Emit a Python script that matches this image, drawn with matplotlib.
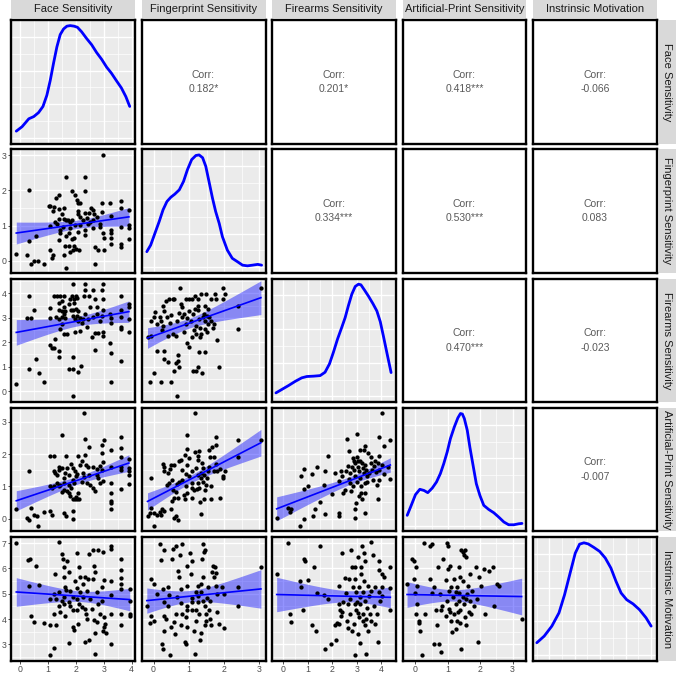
import numpy as np
import matplotlib
matplotlib.use("Agg")
import matplotlib.pyplot as plt
from matplotlib.ticker import FixedLocator, MultipleLocator, MaxNLocator, AutoMinorLocator, NullLocator

plt.rcParams['font.family'] = ['Liberation Sans', 'DejaVu Sans']

variables = ["Face Sensitivity", "Fingerprint Sensitivity", "Firearms Sensitivity",
             "Artificial-Print Sensitivity", "Instrinsic Motivation"]
axis_limits = [(-0.34, 4.12), (-0.34, 3.17), (-0.45, 4.6), (-0.4, 3.43), (2.36, 7.23)]
axis_ticks = [[0, 1, 2, 3, 4], [0, 1, 2, 3], [0, 1, 2, 3, 4], [0, 1, 2, 3], [3, 4, 5, 6, 7]]

corr_labels = {(0, 1): "0.182*", (0, 2): "0.201*", (0, 3): "0.418***", (0, 4): "-0.066",
               (1, 2): "0.334***", (1, 3): "0.530***", (1, 4): "0.083",
               (2, 3): "0.470***", (2, 4): "-0.023",
               (3, 4): "-0.007"}

# fitted lm lines: (x_start, y_start, x_end, y_end)
fit_lines = {(1, 0): (-0.15, 0.79, 3.90, 1.25),
             (2, 0): (-0.15, 2.40, 3.90, 3.25),
             (2, 1): (-0.17, 2.17, 3.04, 3.82),
             (3, 0): (-0.15, 0.55, 3.90, 1.72),
             (3, 1): (-0.17, 0.53, 3.04, 2.35),
             (3, 2): (-0.26, 0.30, 4.37, 1.66),
             (4, 0): (-0.15, 5.07, 3.93, 4.77),
             (4, 1): (-0.19, 4.73, 3.04, 5.19),
             (4, 2): (-0.26, 4.97, 4.37, 4.86),
             (4, 3): (-0.26, 4.97, 3.28, 4.89)}

# ---- density curves (diagonal), relative density ----
face_dens_x = [-0.15,0.06,0.30,0.48,0.65,0.81,0.95,1.07,1.19,1.31,1.43,1.55,1.67,1.79,1.93,2.05,2.20,2.38,2.56,2.74,2.92,3.10,3.27,3.45,3.63,3.79,3.93]
face_dens_y = [0.06,0.10,0.17,0.19,0.225,0.28,0.38,0.51,0.665,0.81,0.92,0.97,0.995,1.0,0.995,0.985,0.945,0.885,0.83,0.76,0.70,0.63,0.577,0.51,0.445,0.368,0.28]
fp_dens_x = [-0.19,-0.08,0.04,0.16,0.27,0.38,0.49,0.60,0.73,0.85,0.96,1.08,1.20,1.29,1.39,1.48,1.57,1.67,1.76,1.86,1.95,2.09,2.23,2.38,2.52,2.66,2.80,2.95,3.06]
fp_dens_y = [0.138,0.197,0.302,0.406,0.511,0.585,0.623,0.65,0.689,0.764,0.868,0.958,0.995,1.0,0.975,0.898,0.764,0.614,0.495,0.39,0.272,0.152,0.079,0.048,0.018,0.012,0.018,0.025,0.018]
fa_dens_x = [-0.29,-0.055,0.22,0.49,0.76,0.97,1.24,1.51,1.71,1.89,2.05,2.22,2.39,2.53,2.66,2.80,2.94,3.07,3.17,3.31,3.48,3.66,3.82,3.96,4.09,4.23,4.40]
fa_dens_y = [0.032,0.062,0.097,0.134,0.166,0.178,0.181,0.186,0.216,0.29,0.393,0.512,0.615,0.703,0.808,0.911,0.98,1.0,0.995,0.95,0.893,0.827,0.762,0.666,0.535,0.388,0.213]
ap_dens_x = [-0.255,-0.13,0.0,0.135,0.26,0.38,0.52,0.65,0.77,0.875,0.98,1.08,1.20,1.31,1.39,1.45,1.51,1.60,1.68,1.78,1.88,1.99,2.11,2.26,2.42,2.57,2.73,2.88,3.04,3.19,3.29]
ap_dens_y = [0.093,0.182,0.277,0.325,0.315,0.295,0.336,0.39,0.465,0.554,0.657,0.776,0.88,0.961,1.0,0.995,0.955,0.851,0.702,0.538,0.375,0.271,0.182,0.146,0.116,0.078,0.034,0.009,0.009,0.018,0.021]
im_dens_x = [2.51,2.80,3.10,3.38,3.60,3.80,4.02,4.19,4.36,4.53,4.75,4.98,5.20,5.42,5.62,5.82,6.04,6.29,6.54,6.80,7.0]
im_dens_y = [0.11,0.169,0.258,0.376,0.538,0.715,0.908,0.988,1.0,0.99,0.959,0.923,0.864,0.775,0.657,0.553,0.493,0.456,0.405,0.332,0.258]

# ---- scatter panels (x = column variable, y = row variable) ----
face_fp = [(-0.15,0.19),(0.30,2.02),(0.30,0.57),(0.24,0.18),(0.39,-0.09),(0.49,0.0),(0.63,0.0),(0.83,-0.1),(0.57,0.70),(1.07,1.0),(1.07,1.55),(1.21,1.53),(1.27,1.8),(1.40,1.86),(1.64,2.37),(2.32,2.37),(1.87,1.99),(1.96,1.86),(2.02,1.74),(2.08,1.63),(2.14,1.63),(2.32,1.99),(2.98,3.02),(1.37,1.47),(1.49,1.32),(1.55,1.2),(1.37,1.2),(1.33,1.06),(1.23,1.11),(1.64,1.15),(1.79,1.11),(1.85,1.17),(2.08,1.42),(2.06,1.34),(2.14,1.25),(2.32,1.36),(2.40,1.23),(2.48,1.36),(2.52,1.49),(2.60,1.44),(2.65,1.32),(2.74,1.25),(2.62,1.15),(2.44,1.06),(2.86,1.06),(2.92,1.63),(2.92,1.39),(3.21,1.63),(3.27,1.27),(3.60,1.70),(3.60,1.49),(3.90,1.44),(2.86,0.95),(2.98,0.78),(3.0,0.66),(3.27,0.87),(3.27,0.78),(3.27,0.66),(3.27,0.49),(3.60,0.95),(3.60,0.49),(3.60,0.38),(3.90,1.01),(3.90,0.92),(3.90,0.63),(2.68,0.40),(2.80,0.30),(3.0,0.30),(2.68,-0.09),(1.64,-0.19),(1.07,0.30),(1.13,0.09),(1.17,0.18),(1.37,0.59),(1.55,0.18),(1.61,0.42),(1.73,0.42),(1.79,0.26),(1.88,0.30),(1.93,0.42),(2.0,0.35),(2.12,0.30),(1.85,0.63),(1.93,0.66),(2.08,0.82),(2.32,0.87),(2.32,0.73),(1.64,0.70),(1.73,0.78),(1.43,0.87),(1.52,0.96),(1.79,0.92),(1.96,1.01),(2.14,1.01),(1.43,0.78),(1.57,1.49),(1.70,1.15),(2.24,1.15),(2.5,1.11),(2.62,0.92),(1.01,1.55),(1.17,1.42)]

face_fa = [(-0.15,0.30),(0.24,2.98),(0.39,2.98),(0.30,3.89),(0.50,3.32),(0.30,0.91),(0.57,1.30),(0.65,0.73),(0.83,0.39),(1.05,3.39),(1.07,2.97),(1.05,1.90),(1.13,1.76),(1.19,1.76),(1.25,2.15),(1.39,1.41),(1.21,3.89),(1.31,3.89),(1.43,3.89),(1.55,3.89),(1.37,3.62),(1.49,3.69),(1.37,3.31),(1.49,3.28),(1.55,3.42),(1.29,3.03),(1.40,2.94),(1.49,3.03),(1.57,3.15),(1.61,2.98),(1.49,2.74),(1.43,2.54),(1.57,2.33),(1.67,2.33),(1.73,3.55),(1.79,3.76),(1.85,3.89),(1.88,4.39),(1.94,3.76),(2.0,3.89),(2.05,3.80),(1.93,3.62),(1.81,3.31),(1.90,3.31),(2.0,3.35),(2.08,3.28),(1.88,3.08),(1.96,2.94),(2.05,3.08),(2.08,2.87),(2.14,2.98),(2.20,2.77),(1.96,2.40),(2.14,2.47),(2.29,3.89),(2.32,4.39),(2.32,4.12),(2.48,3.89),(2.50,3.42),(2.60,4.12),(2.68,3.76),(2.74,3.42),(2.92,4.12),(2.98,4.39),(2.98,3.76),(2.98,3.31),(2.92,3.08),(2.74,3.15),(2.62,3.01),(2.44,2.94),(2.32,3.17),(2.40,2.63),(2.56,2.22),(2.68,2.36),(2.80,2.36),(2.98,2.40),(2.98,2.26),(2.68,1.68),(2.86,2.87),(3.21,3.17),(3.27,2.98),(3.24,2.77),(3.21,1.98),(3.27,1.55),(3.60,3.89),(3.60,3.31),(3.60,3.01),(3.60,2.63),(3.60,2.54),(3.60,1.22),(3.90,3.58),(3.90,3.44),(3.90,2.94),(3.90,2.40),(3.27,0.37),(1.88,-0.22),(1.73,0.91),(1.88,0.91),(1.88,1.41),(2.08,0.77),(2.17,1.04),(1.39,1.65),(1.61,3.28),(2.26,2.94)]

fp_fa = [(-0.17,2.22),(-0.08,2.26),(-0.09,0.37),(0.02,0.73),(-0.08,2.85),(0.02,3.04),(0.04,3.25),(0.21,0.37),(0.11,1.65),(0.30,1.65),(0.30,1.32),(0.42,1.18),(0.49,0.37),(0.66,-0.22),(0.57,0.84),(0.68,1.48),(0.70,1.22),(0.76,4.23),(0.11,2.74),(0.19,3.01),(0.21,2.87),(0.28,2.67),(0.25,2.49),(0.30,3.28),(0.35,3.69),(0.28,3.48),(0.44,3.76),(0.54,3.76),(0.59,3.76),(0.38,3.01),(0.49,3.12),(0.47,2.77),(0.40,2.26),(0.54,2.33),(0.63,2.26),(0.66,2.87),(0.73,3.21),(0.82,3.01),(0.85,3.17),(0.82,3.42),(0.77,3.55),(0.92,3.76),(1.01,3.76),(1.10,3.76),(1.18,3.89),(1.27,3.76),(0.92,2.74),(0.96,2.98),(1.01,3.28),(1.06,2.87),(1.13,3.15),(1.17,3.35),(1.25,3.48),(0.87,2.40),(0.96,1.98),(1.01,1.80),(1.10,2.20),(1.15,2.49),(1.20,2.33),(1.20,2.67),(1.29,2.94),(1.32,2.57),(1.32,2.22),(1.39,3.04),(1.44,3.17),(1.45,2.87),(1.51,3.08),(1.53,2.74),(1.55,3.35),(1.58,3.01),(1.62,2.87),(1.45,2.54),(1.34,2.33),(1.50,2.40),(1.45,1.58),(1.34,3.96),(1.48,3.96),(1.45,3.48),(1.62,3.76),(1.74,3.96),(1.77,3.76),(1.72,2.74),(1.81,2.08),(1.86,1.00),(1.98,4.23),(2.02,3.96),(1.98,3.76),(2.38,2.54),(2.40,3.48),(3.04,4.23),(1.13,0.84),(1.20,0.84),(1.27,1.00),(1.36,0.73),(0.73,0.98),(0.63,1.14),(1.29,1.58),(1.67,2.60),(1.25,3.31)]

face_ap = [(-0.15,0.30),(0.30,1.48),(0.24,0.02),(0.30,-0.05),(0.39,0.33),(0.48,0.12),(0.63,-0.22),(0.60,0.07),(0.83,0.20),(1.07,0.23),(1.13,0.12),(1.05,1.94),(1.21,1.94),(1.05,1.0),(1.21,1.46),(1.25,1.41),(1.31,1.36),(1.33,1.10),(1.37,1.0),(1.40,1.61),(1.49,1.56),(1.55,0.17),(1.64,0.09),(1.51,2.59),(1.64,1.94),(1.67,1.56),(1.55,1.25),(1.57,1.10),(1.55,0.89),(1.73,1.05),(1.73,0.79),(1.81,1.70),(1.88,1.56),(1.96,1.46),(2.0,1.33),(1.88,1.20),(1.81,0.95),(1.79,0.69),(1.88,0.59),(1.96,0.59),(2.05,0.59),(2.12,0.59),(2.0,0.67),(2.08,0.79),(1.88,0.23),(1.88,-0.01),(2.08,1.94),(2.20,1.77),(2.29,3.28),(2.32,2.46),(2.32,1.97),(2.36,1.66),(2.48,2.23),(2.44,1.61),(2.48,1.36),(2.29,1.28),(2.20,1.12),(2.40,1.10),(2.50,1.05),(2.62,0.95),(2.68,0.84),(2.62,1.61),(2.74,1.53),(2.86,1.63),(2.92,2.02),(2.92,2.28),(3.0,2.44),(2.98,1.74),(2.92,1.51),(2.80,1.25),(2.74,1.36),(2.98,1.15),(3.27,2.13),(3.27,1.61),(3.24,1.10),(3.27,0.79),(3.24,0.53),(3.27,0.48),(3.27,0.30),(3.60,2.54),(3.60,2.18),(3.60,1.90),(3.60,1.61),(3.60,1.51),(3.60,0.91),(3.90,1.84),(3.90,1.56),(3.90,1.46),(3.90,1.36),(3.90,1.08),(2.14,1.66),(2.05,1.39),(1.93,1.10),(1.61,1.41),(1.43,1.05),(1.49,0.81),(1.67,0.84),(1.13,0.95),(1.19,1.02),(1.37,1.49),(1.73,1.36),(2.26,1.41),(2.86,1.10)]

fp_ap = [(-0.17,0.07),(-0.08,1.25),(-0.08,0.33),(-0.09,0.17),(0.02,0.17),(0.02,-0.22),(0.11,0.12),(0.19,0.20),(0.23,0.30),(0.21,0.12),(0.30,0.23),(0.28,1.70),(0.30,1.61),(0.30,1.46),(0.40,1.41),(0.38,1.05),(0.44,1.10),(0.49,1.66),(0.47,1.53),(0.51,1.18),(0.54,0.87),(0.57,0.64),(0.51,0.53),(0.49,0.28),(0.63,0.81),(0.66,1.08),(0.73,1.12),(0.70,0.64),(0.58,0.02),(0.63,0.07),(0.68,-0.05),(0.77,1.82),(0.82,1.51),(0.73,1.77),(0.89,1.97),(0.94,2.15),(0.96,2.59),(1.01,1.87),(0.96,1.66),(0.92,1.39),(1.01,1.31),(1.08,1.10),(1.10,0.95),(0.96,0.79),(0.85,0.74),(0.89,0.61),(1.10,0.64),(1.15,0.87),(1.18,3.28),(1.20,1.56),(1.25,1.36),(1.25,1.80),(1.29,2.08),(1.27,1.94),(1.34,1.41),(1.39,1.56),(1.37,1.72),(1.44,1.36),(1.39,1.12),(1.29,0.95),(1.23,0.91),(1.32,0.50),(1.34,0.15),(1.42,0.59),(1.45,0.87),(1.51,1.25),(1.55,1.46),(1.58,1.61),(1.61,1.92),(1.58,2.13),(1.65,2.23),(1.77,2.54),(1.77,2.28),(1.72,1.90),(1.77,1.70),(1.70,1.46),(1.81,1.46),(1.89,1.53),(1.98,1.25),(2.02,1.46),(1.98,1.33),(1.62,1.0),(1.62,0.59),(1.89,0.64),(2.38,2.42),(2.38,1.92),(3.04,2.42),(0.82,1.20),(1.25,1.10),(1.10,1.46),(1.34,1.25),(1.48,1.05),(1.17,2.05),(0.92,1.0),(0.59,1.66)]

fa_ap = [(-0.26,0.02),(0.22,0.33),(0.33,0.30),(0.29,0.20),(0.69,-0.22),(0.87,-0.03),(0.73,1.33),(0.87,0.91),(1.01,1.02),(0.87,1.53),(1.17,1.39),(1.37,1.59),(1.31,0.30),(1.24,0.07),(1.51,0.50),(1.69,0.15),(1.65,1.05),(1.72,1.46),(1.85,1.94),(1.99,0.77),(2.12,1.41),(2.26,1.15),(2.29,0.17),(2.29,0.09),(2.37,1.46),(2.42,1.33),(2.46,0.79),(2.56,1.46),(2.60,2.46),(2.67,2.10),(2.67,1.22),(2.73,1.10),(2.80,1.61),(2.83,1.87),(2.87,1.77),(2.78,0.84),(2.87,1.51),(2.91,1.31),(2.94,1.72),(2.94,0.28),(2.91,0.02),(2.97,0.48),(3.01,2.62),(3.01,1.92),(3.05,1.77),(3.07,1.61),(3.10,1.46),(3.14,1.77),(3.14,1.25),(3.18,1.0),(3.21,1.72),(3.24,1.56),(3.28,2.13),(3.28,1.41),(3.32,2.25),(3.32,1.10),(3.35,1.66),(3.37,1.51),(3.41,1.33),(3.18,0.79),(3.21,0.59),(3.10,0.69),(3.32,0.17),(3.41,1.12),(3.51,1.41),(3.59,1.92),(3.59,1.72),(3.62,1.51),(3.65,1.20),(3.69,1.63),(3.76,1.77),(3.78,1.43),(3.82,1.05),(3.89,2.54),(3.89,1.94),(3.86,1.72),(3.89,1.18),(3.86,0.59),(3.92,1.51),(4.05,3.28),(4.10,2.25),(4.05,1.66),(4.10,1.39),(4.37,2.44),(4.37,1.22),(4.27,1.61),(2.73,1.41),(2.63,1.63),(3.01,1.12),(2.83,1.02),(3.48,2.03),(3.14,2.13),(3.35,0.79),(2.53,0.87)]

face_im = [(-0.15,7.0),(0.26,6.33),(0.33,6.37),(0.30,5.32),(0.57,6.08),(0.65,5.36),(0.39,4.14),(0.50,3.90),(0.83,3.84),(1.05,3.75),(1.07,2.57),(1.19,2.86),(1.29,3.75),(1.21,4.21),(1.05,4.80),(1.19,4.99),(1.25,5.78),(1.37,7.03),(1.40,5.06),(1.37,4.53),(1.43,4.27),(1.49,4.73),(1.55,4.89),(1.49,6.57),(1.52,6.37),(1.57,6.04),(1.55,5.65),(1.67,6.30),(1.73,5.87),(1.61,5.25),(1.64,5.15),(1.61,4.14),(1.79,5.10),(1.79,4.53),(1.88,4.86),(1.88,4.36),(1.90,3.68),(1.94,3.58),(1.76,3.05),(1.96,5.52),(2.05,6.59),(2.05,5.23),(2.12,6.04),(2.14,5.06),(2.05,4.80),(2.12,4.60),(2.05,4.36),(2.08,3.81),(2.14,5.65),(2.24,5.39),(2.26,4.89),(2.32,4.40),(2.36,4.21),(2.40,4.01),(2.44,5.58),(2.48,6.57),(2.40,5.12),(2.50,4.80),(2.32,3.09),(2.48,3.18),(2.64,6.11),(2.68,5.85),(2.62,5.58),(2.62,6.72),(2.80,6.72),(2.64,3.97),(2.68,3.45),(2.68,2.63),(2.74,5.06),(2.80,4.60),(2.76,3.88),(2.86,4.21),(2.92,5.28),(2.95,4.73),(2.98,6.63),(3.0,4.08),(3.0,3.68),(3.04,3.81),(2.98,3.55),(3.07,3.45),(3.0,5.54),(3.25,6.76),(3.27,6.90),(3.24,5.52),(3.27,4.97),(3.24,4.21),(3.27,3.03),(3.60,6.37),(3.60,5.94),(3.60,5.62),(3.60,5.39),(3.60,5.19),(3.60,4.21),(3.60,3.75),(3.93,5.19),(3.93,4.73),(3.93,4.21),(3.93,4.14),(1.73,4.66),(1.55,4.60),(1.29,4.80),(2.20,4.47),(2.56,4.40),(2.32,5.65)]

fp_im = [(-0.19,4.50),(-0.08,4.14),(-0.09,3.84),(-0.08,5.58),(0.02,5.39),(0.0,3.94),(0.09,4.99),(0.19,6.96),(0.21,6.33),(0.30,6.72),(0.28,5.19),(0.30,4.66),(0.25,3.03),(0.28,2.83),(0.30,4.14),(0.35,4.01),(0.30,3.55),(0.40,5.26),(0.44,4.97),(0.49,3.68),(0.47,2.57),(0.51,6.37),(0.54,6.76),(0.63,6.90),(0.68,5.91),(0.66,4.86),(0.63,4.21),(0.60,3.42),(0.76,6.54),(0.81,6.96),(0.73,5.65),(0.78,5.19),(0.78,4.63),(0.82,4.21),(0.78,3.75),(0.90,3.09),(0.92,3.03),(0.94,6.11),(0.96,5.32),(0.94,4.53),(0.92,4.08),(0.96,3.68),(1.04,6.59),(1.06,5.78),(1.10,6.30),(1.08,4.84),(1.08,4.34),(1.15,3.55),(1.17,2.61),(1.20,5.06),(1.20,4.34),(1.20,3.94),(1.25,5.32),(1.27,4.66),(1.29,4.21),(1.32,3.18),(1.34,3.45),(1.39,6.96),(1.42,6.63),(1.45,6.72),(1.37,6.37),(1.39,5.65),(1.34,5.39),(1.34,5.06),(1.39,4.73),(1.45,4.53),(1.48,4.21),(1.45,3.78),(1.51,4.84),(1.55,5.26),(1.58,4.34),(1.61,4.01),(1.62,3.75),(1.65,5.85),(1.67,6.08),(1.70,5.65),(1.74,6.04),(1.77,5.81),(1.79,4.99),(1.81,4.27),(1.86,3.81),(1.95,5.26),(2.0,4.99),(2.0,3.65),(2.40,5.26),(2.40,4.50),(3.04,6.04),(0.96,4.34),(1.10,4.66),(1.25,4.93),(0.58,3.88),(0.40,4.53),(1.48,3.94),(1.77,5.32),(1.61,4.73)]

fa_im = [(-0.26,5.78),(0.22,7.0),(0.29,4.21),(0.33,3.88),(0.69,5.52),(0.73,5.26),(0.83,4.34),(0.87,6.37),(0.90,6.30),(1.01,5.54),(1.17,3.75),(1.28,6.07),(1.33,3.55),(1.37,5.02),(1.51,6.90),(1.65,4.97),(1.69,2.83),(1.85,4.80),(1.96,3.03),(2.10,3.75),(2.15,3.18),(2.19,3.84),(2.29,5.32),(2.29,4.60),(2.33,4.36),(2.37,4.14),(2.42,6.59),(2.42,4.27),(2.46,4.66),(2.53,5.62),(2.56,5.02),(2.60,3.92),(2.63,4.60),(2.69,5.58),(2.73,4.80),(2.73,4.21),(2.78,6.72),(2.80,6.07),(2.83,5.26),(2.87,3.81),(2.91,5.58),(2.91,4.60),(2.91,2.57),(2.94,6.07),(2.97,5.06),(2.97,4.36),(3.01,4.66),(3.05,4.23),(3.07,6.44),(3.10,5.26),(3.10,4.08),(3.14,4.86),(3.14,4.60),(3.14,3.05),(3.18,6.07),(3.18,5.78),(3.21,6.90),(3.24,5.06),(3.24,4.21),(3.24,3.92),(3.28,6.59),(3.28,5.52),(3.32,4.73),(3.32,3.75),(3.35,6.30),(3.37,4.01),(3.37,2.63),(3.41,4.44),(3.44,5.32),(3.51,4.93),(3.55,4.21),(3.59,7.03),(3.59,5.12),(3.59,3.94),(3.65,6.54),(3.69,4.53),(3.73,5.26),(3.76,3.79),(3.82,4.21),(3.86,3.09),(3.89,5.94),(3.89,6.28),(3.92,5.06),(3.96,4.73),(4.03,5.26),(4.05,5.78),(4.05,4.93),(4.10,5.65),(4.37,6.04),(4.37,5.23),(4.37,4.34),(2.29,3.81),(3.07,3.42),(2.80,3.55),(3.48,3.55),(2.63,3.65)]

ap_im = [(-0.26,5.39),(-0.10,6.37),(-0.05,6.30),(0.02,6.04),(-0.05,5.58),(0.05,5.32),(-0.02,5.02),(0.05,4.60),(0.02,4.21),(0.10,3.92),(0.12,3.84),(0.15,3.55),(0.21,2.57),(0.29,4.21),(0.26,6.99),(0.46,6.90),(0.52,6.96),(0.46,5.58),(0.52,5.02),(0.57,5.26),(0.62,4.34),(0.67,3.75),(0.57,3.03),(0.72,3.03),(0.80,2.70),(0.70,6.07),(0.77,4.99),(0.85,6.37),(0.93,5.54),(0.98,4.73),(0.98,6.99),(1.01,6.90),(1.01,5.98),(1.05,5.12),(1.03,4.40),(1.08,6.08),(1.11,5.26),(1.11,3.94),(1.13,3.49),(1.15,4.86),(1.19,5.58),(1.19,4.21),(1.24,4.60),(1.26,3.62),(1.29,5.26),(1.29,3.94),(1.32,4.27),(1.34,6.04),(1.34,5.02),(1.36,4.73),(1.39,4.34),(1.39,3.84),(1.42,2.83),(1.42,6.72),(1.46,6.63),(1.49,6.54),(1.53,6.72),(1.55,6.44),(1.46,5.52),(1.46,4.86),(1.49,4.60),(1.53,4.08),(1.55,3.75),(1.60,4.99),(1.63,5.32),(1.65,4.27),(1.67,5.78),(1.70,4.73),(1.73,4.21),(1.75,5.12),(1.80,4.53),(1.88,6.04),(1.91,4.80),(1.94,3.09),(1.96,5.65),(2.01,5.32),(2.11,5.98),(2.16,4.21),(2.27,5.91),(2.39,6.04),(2.42,4.53),(2.53,5.39),(2.58,5.32),(3.28,4.01),(1.08,4.27),(0.93,4.14),(0.82,4.53),(1.39,5.65),(1.24,5.06),(1.55,4.80),(0.80,4.34)]

scatter_panels = {(1, 0): face_fp, (2, 0): face_fa, (2, 1): fp_fa,
                  (3, 0): face_ap, (3, 1): fp_ap, (3, 2): fa_ap,
                  (4, 0): face_im, (4, 1): fp_im, (4, 2): fa_im, (4, 3): ap_im}
density_panels = [(face_dens_x, face_dens_y), (fp_dens_x, fp_dens_y), (fa_dens_x, fa_dens_y),
                  (ap_dens_x, ap_dens_y), (im_dens_x, im_dens_y)]

# ---- layout (pixels) ----
W, H = 676, 675
fig = plt.figure(figsize=(W / 100, H / 100), dpi=100)
col_x0 = [11 + 130.5 * i for i in range(5)]
row_y0 = [20 + 129.3 * i for i in range(5)]
PW, PH = 124, 123.5

def rect(x0, y0, w, h):
    return [x0 / W, 1 - (y0 + h) / H, w / W, h / H]

BG = '#EBEBEB'
TXT = '#4D4D4D'

def style_grid(ax):
    ax.set_facecolor(BG)
    ax.grid(which='major', color='white', lw=0.95)
    ax.grid(which='minor', color='white', lw=0.5)
    ax.set_axisbelow(True)

def t_crit(df):
    return 1.96 + 2.4 / df

for r in range(5):
    for c in range(5):
        ax = fig.add_axes(rect(col_x0[c], row_y0[r], PW, PH))
        for s in ax.spines.values():
            s.set_color('black')
            s.set_linewidth(1.7)
        ax.tick_params(which='both', length=0, labelleft=False, labelbottom=False)
        ax.set_xlim(axis_limits[c])
        ax.xaxis.set_major_locator(FixedLocator(axis_ticks[c]))
        ax.xaxis.set_minor_locator(MultipleLocator(0.5))
        if r < c:
            ax.set_facecolor('white')
            ax.grid(False)
            ax.text(0.5, 0.5, "Corr:\n" + corr_labels[(r, c)], transform=ax.transAxes,
                    ha='center', va='center', fontsize=7.5, color='#595959', linespacing=1.55)
            ax.set_ylim(0, 1)
            ax.yaxis.set_major_locator(NullLocator())
            ax.xaxis.set_major_locator(NullLocator())
            ax.xaxis.set_minor_locator(NullLocator())
            continue
        style_grid(ax)
        if r == c:
            dx, dy = density_panels[c]
            dmax = max(dy)
            ax.set_ylim(-0.05 * dmax, 1.05 * dmax)
            ax.yaxis.set_major_locator(MaxNLocator(4))
            ax.yaxis.set_minor_locator(AutoMinorLocator(2))
            ax.plot(dx, dy, color='#0000FF', lw=2.0, solid_capstyle='round')
        else:
            pts = np.array(scatter_panels[(r, c)])
            x, y = pts[:, 0], pts[:, 1]
            ax.set_ylim(axis_limits[r])
            ax.yaxis.set_major_locator(FixedLocator(axis_ticks[r]))
            ax.yaxis.set_minor_locator(MultipleLocator(0.5))
            x0, y0, x1, y1 = fit_lines[(r, c)]
            b = (y1 - y0) / (x1 - x0)
            a = y0 - b * x0
            n = len(x)
            xb = x.mean()
            sxx = np.sum((x - xb) ** 2)
            s = np.sqrt(np.sum((y - a - b * x) ** 2) / (n - 2))
            xs = np.linspace(x0, x1, 80)
            yh = a + b * xs
            se = s * np.sqrt(1 / n + (xs - xb) ** 2 / sxx)
            tc = t_crit(n - 2)
            ax.fill_between(xs, yh - tc * se, yh + tc * se, color='#0000FF', alpha=0.42, lw=0, zorder=2)
            ax.scatter(x, y, s=9.5, color='black', lw=0, zorder=3)
            ax.plot(xs, yh, color='#0000FF', lw=1.2, zorder=4)
        if c == 0 and r > 0:
            ax.tick_params(which='major', axis='y', length=2.2, width=0.6, color='#333333',
                           labelleft=True, labelsize=6.3, labelcolor=TXT, pad=1.2)
        if r == 4 and c < 4:
            ax.tick_params(which='major', axis='x', length=2.0, width=0.6, color='#333333',
                           labelbottom=True, labelsize=6.3, labelcolor=TXT, pad=0.8)

# strips
STRIP = '#D9D9D9'
for c in range(5):
    sax = fig.add_axes(rect(col_x0[c], 0, PW, 18.3))
    sax.set_facecolor(STRIP)
    for s in sax.spines.values():
        s.set_visible(False)
    sax.set_xticks([]); sax.set_yticks([])
    sax.text(0.5, 0.5, variables[c], ha='center', va='center', fontsize=8, color='#1A1A1A',
             transform=sax.transAxes)
for r in range(5):
    sax = fig.add_axes(rect(659, row_y0[r], 17, PH))
    sax.set_facecolor(STRIP)
    for s in sax.spines.values():
        s.set_visible(False)
    sax.set_xticks([]); sax.set_yticks([])
    sax.text(0.5, 0.5, variables[r], ha='center', va='center', fontsize=8, color='#1A1A1A',
             rotation=-90, transform=sax.transAxes)

fig.savefig('out.png', dpi=100)
